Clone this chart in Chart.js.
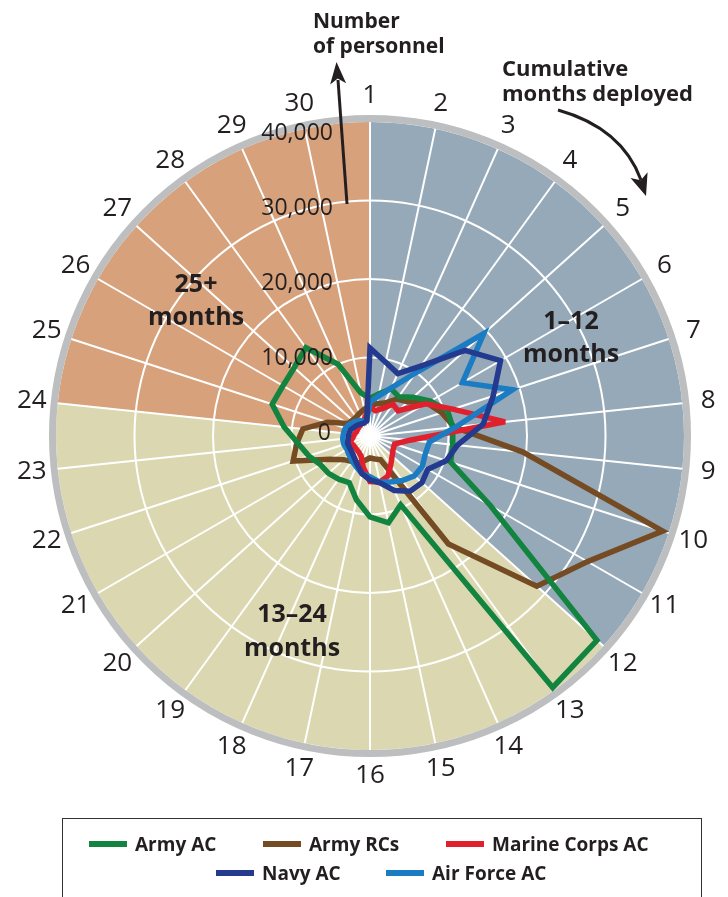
<!DOCTYPE html>
<html lang="en">
<head>
<meta charset="utf-8">
<title>Cumulative months deployed</title>
<script src="https://cdn.jsdelivr.net/npm/chart.js@4.4.1/dist/chart.umd.min.js"></script>
<style>
  body { margin: 0; background: #fff; }
  .page { position: relative; width: 728px; height: 897px; overflow: hidden; font-family: 'Open Sans', sans-serif; color: #231f20; }
  #chart { position: absolute; left: 0; top: 0; }
  .note { position: absolute; font-weight: 700; white-space: nowrap; }
  .legend { position: absolute; left: 62px; top: 818px; width: 640px; height: 110px; border: 1.5px solid #333; box-sizing: border-box; }
  .item { position: absolute; display: flex; align-items: center; font-weight: 700; font-size: 19px; white-space: nowrap; transform: translateY(-50%); }
  .swatch { display: inline-block; width: 38px; height: 6px; margin-right: 8px; }
</style>
</head>
<body>
<div class="page">
  <canvas id="chart" width="728" height="897"></canvas>

  <div class="note" style="left:313px; top:8px; font-size:21px; line-height:25px;">Number<br>of personnel</div>
  <div class="note" style="left:502px; top:55px; font-size:22px; line-height:25px;">Cumulative<br>months deployed</div>
  <div class="note" style="left:126px; top:266px; width:140px; text-align:center; font-size:25px; line-height:33px;">25+<br>months</div>
  <div class="note" style="left:501px; top:303px; width:140px; text-align:center; font-size:25px; line-height:33px;">1–12<br>months</div>
  <div class="note" style="left:222px; top:595px; width:140px; text-align:center; font-size:25px; line-height:34px;">13–24<br>months</div>

  <div class="legend" id="legend"></div>
</div>

<script>
// categories: cumulative months deployed
const months = ['1', '2', '3', '4', '5', '6', '7', '8', '9', '10',
  '11', '12', '13', '14', '15', '16', '17', '18', '19', '20',
  '21', '22', '23', '24', '25', '26', '27', '28', '29', '30'];

const tickValues = [0, 10000, 20000, 30000, 40000];
const tickLabels = ['0', '10,000', '20,000', '30,000', '40,000'];

// number of personnel
const armyAC = [4800, 5500, 6600, 6200, 7400, 8900, 10400, 10600, 10600, 10800,
  17700, 38900, 39600, 9600, 11300, 10300, 8300, 6500, 6800, 7100,
  7300, 8200, 9200, 11000, 13100, 12800, 13000, 13900, 10000, 5600];
const armyRCs = [3900, 4200, 4600, 5800, 6500, 8400, 9600, 10800, 19600, 39200,
  32000, 28600, 17000, 3300, 3000, 2800, 3200, 3800, 4000, 4500,
  5900, 10300, 9400, 8600, 5700, 3200, 3000, 3000, 3200, 3500];
const marineAC = [3700, 3300, 3800, 5000, 4800, 8200, 11100, 17300, 5100, 3300,
  3400, 3800, 4500, 5600, 6000, 5800, 4100, 2800, 2500, 2400,
  2400, 2700, 2200, 2000, 1800, 1800, 1800, 1900, 2100, 2600];
const navyAC = [11200, 9600, 8700, 11000, 16300, 19200, 16500, 14500, 11200, 10200,
  8500, 8900, 8700, 7600, 6100, 5600, 4900, 4000, 3400, 3100,
  3000, 3000, 2800, 2700, 2600, 2300, 2100, 1900, 1800, 2000];
const airForceAC = [4300, 5200, 6700, 10000, 19500, 13600, 19100, 11000, 7600, 7400,
  7700, 7600, 7000, 6400, 6000, 5200, 4900, 4300, 3900, 3600,
  3400, 3500, 3500, 3400, 3300, 3000, 2700, 2400, 2100, 2000];

const sectors = [
  { from: 0, to: 11, color: '#96a9b8' },
  { from: 11, to: 23, color: '#dbd8b1' },
  { from: 23, to: 30, color: '#d6a17b' }
];

const series = [
  { label: 'Army AC', data: armyAC, color: '#13843f', order: 4 },
  { label: 'Army RCs', data: armyRCs, color: '#744b23', order: 5 },
  { label: 'Marine Corps AC', data: marineAC, color: '#e1202e', order: 3 },
  { label: 'Navy AC', data: navyAC, color: '#243a8e', order: 1 },
  { label: 'Air Force AC', data: airForceAC, color: '#1b7cc4', order: 2 }
];

const textColor = '#231f20';

function arrowHead(ctx, x, y, angle, len, half) {
  ctx.save();
  ctx.translate(x, y);
  ctx.rotate(angle);
  ctx.beginPath();
  ctx.moveTo(0, 0);
  ctx.lineTo(-len, -half);
  ctx.lineTo(-len * 0.75, 0);
  ctx.lineTo(-len, half);
  ctx.closePath();
  ctx.fill();
  ctx.restore();
}

const backdrop = {
  id: 'backdrop',
  beforeDraw(chart) {
    const r = chart.scales.r;
    const ctx = chart.ctx;
    const R = r.getDistanceFromCenterForValue(r.max);
    const step = Math.PI * 2 / months.length;
    const start = r.getIndexAngle(0) - Math.PI / 2;
    ctx.save();
    sectors.forEach(s => {
      ctx.beginPath();
      ctx.moveTo(r.xCenter, r.yCenter);
      ctx.arc(r.xCenter, r.yCenter, R, start + s.from * step, start + s.to * step);
      ctx.closePath();
      ctx.fillStyle = s.color;
      ctx.fill();
    });
    // grey rim
    ctx.beginPath();
    ctx.arc(r.xCenter, r.yCenter, R + 3.5, 0, Math.PI * 2);
    ctx.lineWidth = 7;
    ctx.strokeStyle = '#bcbec0';
    ctx.stroke();
    ctx.restore();
  },
  beforeDatasetsDraw(chart) {
    chart.ctx.miterLimit = 4;
  },
  afterDraw(chart) {
    const r = chart.scales.r;
    const ctx = chart.ctx;
    const R = r.getDistanceFromCenterForValue(r.max);
    ctx.save();
    ctx.fillStyle = textColor;

    // month numbers round the rim
    ctx.font = '26px "Open Sans", sans-serif';
    ctx.textAlign = 'center';
    ctx.textBaseline = 'middle';
    months.forEach((m, i) => {
      const p = r.getPointPosition(i, R + 26);
      ctx.fillText(m, p.x, p.y);
    });

    // value labels up the first spoke
    ctx.font = '23px "Open Sans", sans-serif';
    ctx.textAlign = 'right';
    tickValues.forEach((v, i) => {
      const d = r.getDistanceFromCenterForValue(v);
      const x = v === 0 ? r.xCenter - 39 : r.xCenter - 37;
      ctx.fillText(tickLabels[i], x, r.yCenter - 3 - d * 0.955);
    });

    // arrows
    ctx.strokeStyle = textColor;
    ctx.lineWidth = 3;
    ctx.beginPath();
    ctx.moveTo(347, 204);
    ctx.lineTo(338, 80);
    ctx.stroke();
    arrowHead(ctx, 336.5, 62, Math.atan2(62 - 204, 336.5 - 347), 22, 8);

    ctx.beginPath();
    ctx.moveTo(558, 110);
    ctx.quadraticCurveTo(622, 128, 641, 180);
    ctx.stroke();
    arrowHead(ctx, 646, 196, Math.atan2(196 - 178, 646 - 640), 22, 9);
    ctx.restore();
  }
};

new Chart(document.getElementById('chart'), {
  type: 'radar',
  data: {
    labels: months,
    datasets: series.map(s => ({
      label: s.label,
      data: s.data,
      borderColor: s.color,
      backgroundColor: s.color,
      borderWidth: 5.5,
      borderJoinStyle: 'miter',
      pointRadius: 0,
      fill: false,
      tension: 0,
      order: s.order
    }))
  },
  options: {
    responsive: false,
    animation: false,
    layout: { padding: { left: 56, top: 122, right: 44, bottom: 147 } },
    plugins: { legend: { display: false }, tooltip: { enabled: false } },
    scales: {
      r: {
        min: 0,
        max: 40000,
        startAngle: 0,
        ticks: { display: false, stepSize: 10000 },
        pointLabels: { display: false },
        grid: {
          circular: true,
          lineWidth: 2,
          color: ctx => (ctx.tick && ctx.tick.value >= 40000) ? 'rgba(0,0,0,0)' : '#ffffff'
        },
        angleLines: { color: '#ffffff', lineWidth: 2 }
      }
    }
  },
  plugins: [backdrop]
});

// legend box
const legendPos = [
  { x: 88, y: 25 }, { x: 262, y: 25 }, { x: 445, y: 25 },
  { x: 215, y: 54 }, { x: 385, y: 54 }
];
const legend = document.getElementById('legend');
[0, 1, 2, 3, 4].forEach(i => {
  const s = series[i];
  const el = document.createElement('div');
  el.className = 'item';
  el.style.left = (legendPos[i].x - 62) + 'px';
  el.style.top = legendPos[i].y + 'px';
  el.innerHTML = '<span class="swatch" style="background:' + s.color + '"></span>' + s.label;
  legend.appendChild(el);
});
</script>
</body>
</html>
